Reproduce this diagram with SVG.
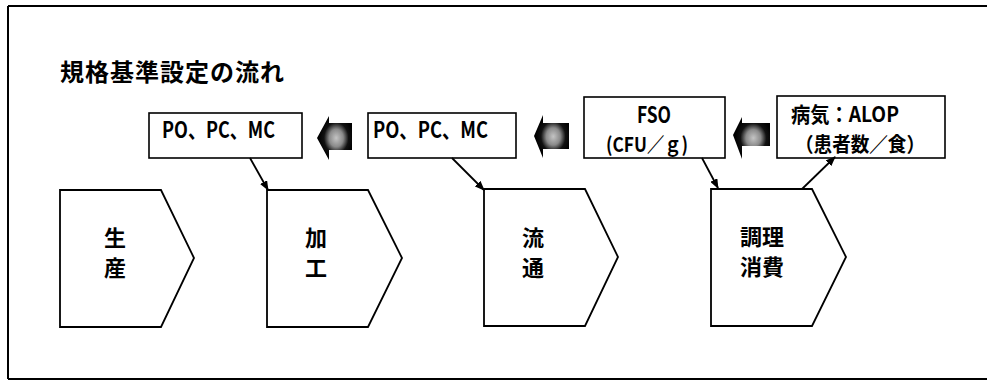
<svg xmlns="http://www.w3.org/2000/svg" width="987" height="382" viewBox="0 0 987 382">
<style>
.box{fill:#fff;stroke:#000;stroke-width:1.6}
.pent{fill:#fff;stroke:#000;stroke-width:1.8}
.t{font-family:"Noto Sans CJK JP","Liberation Sans",sans-serif;font-weight:bold;fill:#000}
.lat{font-size:22px}
.pt{font-size:22px;text-anchor:middle}
.con{stroke:#000;stroke-width:1.8;fill:none;marker-end:url(#ah)}
.frame{stroke:#000;stroke-width:2;fill:none}
.blk{fill:url(#shade)}
</style>
<defs>
<marker id="ah" markerWidth="10" markerHeight="8" refX="9" refY="4" orient="auto" markerUnits="userSpaceOnUse">
<path d="M0,0 L10,4 L0,8 Z" fill="#000"/>
</marker>
<radialGradient id="shade" cx="0.55" cy="0.5" r="0.5">
<stop offset="0" stop-color="#c4c4c4"/>
<stop offset="0.4" stop-color="#8a8a8a"/>
<stop offset="0.7" stop-color="#111"/>
<stop offset="1" stop-color="#000"/>
</radialGradient>
</defs>
<g id="frame">
<line class="frame" x1="8" y1="6" x2="987" y2="6"/>
<line class="frame" x1="8" y1="6" x2="8" y2="379"/>
<line class="frame" x1="8" y1="379" x2="987" y2="379" stroke="#555"/>
</g>
<g id="title">
<text class="t" x="60" y="81" font-size="24" letter-spacing="1">規格基準設定の流れ</text>
</g>
<g id="box-po1">
<rect class="box" x="149" y="113" width="153" height="45"/>
<text class="t lat" x="162" y="138" textLength="113" lengthAdjust="spacingAndGlyphs">PO、PC、MC</text>
</g>
<g id="box-po2">
<rect class="box" x="368" y="113" width="148" height="45"/>
<text class="t lat" x="373" y="138" textLength="115" lengthAdjust="spacingAndGlyphs">PO、PC、MC</text>
</g>
<g id="box-fso">
<rect class="box" x="584" y="97" width="141" height="61"/>
<text class="t lat" x="637" y="123" textLength="34" lengthAdjust="spacingAndGlyphs">FSO</text>
<text class="t" x="606" y="152" font-size="20" textLength="82" lengthAdjust="spacingAndGlyphs">(CFU／ｇ)</text>
</g>
<g id="box-alop">
<rect class="box" x="777" y="96" width="168" height="62"/>
<text class="t" x="791" y="122" font-size="21" textLength="108" lengthAdjust="spacingAndGlyphs">病気：ALOP</text>
<text class="t" x="795" y="152" font-size="20" textLength="130" lengthAdjust="spacingAndGlyphs">（患者数／食）</text>
</g>
<g id="blk1">
<path class="blk" d="M317,138 L329,116 L329,123 L352,123 L352,150 L329,150 L329,160 Z"/>
</g>
<g id="blk2">
<path class="blk" d="M534,136 L543,115 L543,123 L569,123 L569,149 L543,149 L543,158 Z"/>
</g>
<g id="blk3">
<path class="blk" d="M733,135 L742,117 L742,123 L770,123 L770,146 L742,146 L742,159 Z"/>
</g>
<g id="p-seisan">
<polygon class="pent" points="60,190 161,190 194,258 161,327 60,327"/>
<text class="t pt" x="115" y="246">生</text>
<text class="t pt" x="115" y="276">産</text>
</g>
<g id="p-kakou">
<polygon class="pent" points="267,190 368,190 402,258 368,327 267,327"/>
<text class="t pt" x="316" y="246">加</text>
<text class="t pt" x="316" y="276">工</text>
</g>
<g id="p-ryutsu">
<polygon class="pent" points="484,189 585,189 618,257 585,326 484,326"/>
<text class="t pt" x="533" y="246">流</text>
<text class="t pt" x="533" y="276">通</text>
</g>
<g id="p-chouri">
<polygon class="pent" points="711,189 812,189 846,257 812,326 711,326"/>
<text class="t pt" x="762" y="245">調理</text>
<text class="t pt" x="762" y="275">消費</text>
</g>
<g id="connectors">
<line class="con" x1="250" y1="158" x2="268" y2="190"/>
<line class="con" x1="452" y1="158" x2="484" y2="190"/>
<line class="con" x1="702" y1="158" x2="718" y2="188"/>
<line class="con" x1="802" y1="189" x2="835" y2="157"/>
</g>
</svg>
